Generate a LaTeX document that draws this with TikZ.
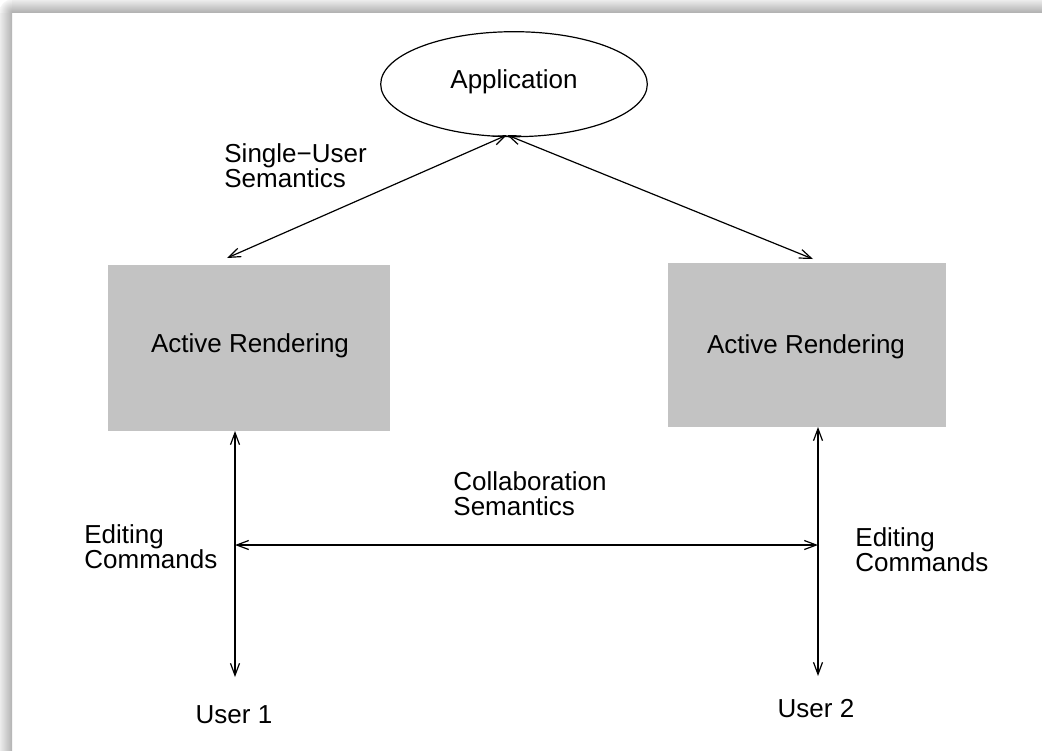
\documentclass[tikz,border=0pt]{standalone}
\usepackage{fontspec}
\setmainfont{Liberation Sans}
\usetikzlibrary{shapes.geometric,arrows.meta}
\definecolor{boxgray}{RGB}{195,195,195}
\begin{document}
\begin{tikzpicture}[x=0.5pt,y=-0.5pt,
  every node/.style={font=\fontsize{13}{12.5}\selectfont},
  % two-line labels: anchored at the baseline of their last line
  lbl/.style={align=left,anchor=base west,inner sep=0pt},
  txt/.style={anchor=base,inner sep=0pt},
  panel/.style={fill=boxgray,draw=none,inner sep=0pt},
  conn/.style={line width=0.6pt,{Straight Barb[length=6pt,width=4.5pt]}-{Straight Barb[length=6pt,width=4.5pt]}}]
  \useasboundingbox (0,0) rectangle (1042,750);
  % page with a soft shadow along its top and left edges
  \fill[white] (0,0) rectangle (1042,750);
  \shade[top color=gray!15,bottom color=gray!60] (12,0) rectangle (1042,12);
  \shade[left color=gray!15,right color=gray!60] (0,12) rectangle (12,750);
  \begin{scope}
    \clip (0,0) rectangle (12,12);
    \shade[inner color=gray!60,outer color=gray!8] (12,12) circle (12.5);
  \end{scope}

  % application and the two renderings
  \node[ellipse,draw,line width=0.6pt,minimum width=133.3pt,minimum height=52.5pt,inner sep=0pt,
        label={[anchor=base,yshift=1.2pt,font=\fontsize{13}{12.5}\selectfont]center:Application}]
        (app) at (514,84.2) {};
  \node[panel,minimum width=141pt,minimum height=83pt] (lbox) at (249,348) {};
  \node[txt] (ltext) at (250,352) {Active Rendering};
  \node[panel,minimum width=139pt,minimum height=81.7pt] (rbox) at (807,345) {};
  \node[txt] (rtext) at (806,353) {Active Rendering};

  % connector end points
  \coordinate (apex) at (507,135);
  \coordinate (ltop) at (227,258);
  \coordinate (rtop) at (813,259);
  \coordinate (lbot) at (235,431);
  \coordinate (rbot) at (818,427);
  \coordinate (lend) at (235,677);
  \coordinate (rend) at (818,676);
  \coordinate (lmid) at (235,545);
  \coordinate (rmid) at (818,545);

  \draw[conn] (apex) -- (ltop);
  \draw[conn] (apex) -- (rtop);
  \draw[conn] (lbot) -- (lend);
  \draw[conn] (rbot) -- (rend);
  \draw[conn] (lmid) -- (rmid);

  % labels
  \node[lbl] (single) at (224,187) {Single−User\\Semantics};
  \node[lbl] (collab) at (453,515) {Collaboration\\Semantics};
  \node[lbl] (edl) at (84,568) {Editing\\Commands};
  \node[lbl] (edr) at (855,571) {Editing\\Commands};
  \node[txt] (user1) at (234,723) {User 1};
  \node[txt] (user2) at (816,717) {User 2};
\end{tikzpicture}
\end{document}
